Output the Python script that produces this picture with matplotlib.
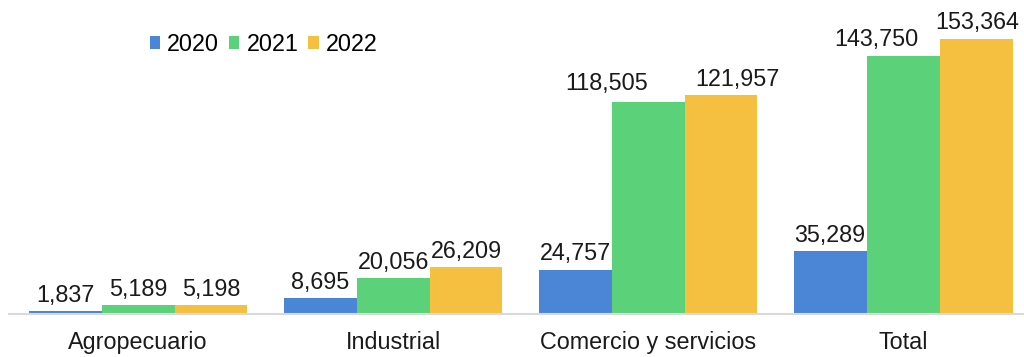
import matplotlib
matplotlib.use("Agg")
import matplotlib.pyplot as plt
import numpy as np

categories = ["Agropecuario", "Industrial", "Comercio y servicios", "Total"]
years = ["2020", "2021", "2022"]
v2020 = [1837, 8695, 24757, 35289]
v2021 = [5189, 20056, 118505, 143750]
v2022 = [5198, 26209, 121957, 153364]
colors = ["#4A86D5", "#5BD27A", "#F5C040"]

# manual label shifts in pixels (series index, category index) -> (dx, dy)
label_shift = {(1, 2): (-41, 2), (2, 2): (16, 0), (1, 3): (-27, 1), (2, 3): (1, 1)}

plt.rcParams['font.family'] = ['Liberation Sans', 'DejaVu Sans']
FS = 16.8
px = 72 / 100

fig = plt.figure(figsize=(10.24, 3.57), dpi=100)
ax = fig.add_axes([9/1024, 43/357, 1015/1024, 314/357])

x = np.arange(len(categories))
w = 0.286
for i, (vals, yr, c) in enumerate(zip([v2020, v2021, v2022], years, colors)):
    pos = x + (i - 1) * w
    bars = ax.bar(pos, vals, width=w, color=c, label=yr)
    for j, (b, v) in enumerate(zip(bars, vals)):
        dx, dy = label_shift.get((i, j), (0, 0))
        ax.annotate(f"{v:,}", (b.get_x() + b.get_width()/2, v),
                    xytext=(dx * px, 3 + dy * px),
                    textcoords="offset points", ha="center", va="bottom",
                    fontsize=FS, color="#1a1a1a")

ax.set_xlim(-0.506, 3.474)
ax.set_ylim(0, 175115)
ax.set_xticks(x)
ax.set_xticklabels(categories, fontsize=FS, color="#1a1a1a")
ax.tick_params(axis='x', length=0, pad=12)
ax.set_yticks([])
for s in ["top", "right", "left"]:
    ax.spines[s].set_visible(False)
ax.spines["bottom"].set_color("#d9d9d9")
ax.spines["bottom"].set_linewidth(1.5)

leg = ax.legend(loc="upper left", bbox_to_anchor=(129/1015, 1 - 21/314), ncol=3,
                frameon=False, fontsize=FS, handlelength=0.45, handleheight=0.45,
                handletextpad=0.3, columnspacing=0.42, borderpad=0)

fig.savefig("out.png", dpi=100)
